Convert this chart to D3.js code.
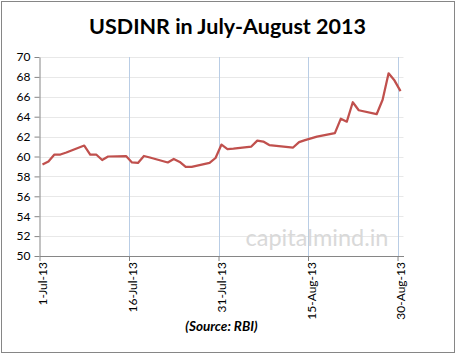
<!DOCTYPE html>
<html>
<head>
<meta charset="utf-8">
<script src="https://cdn.jsdelivr.net/npm/d3@7"></script>
<style>
  html, body { margin: 0; padding: 0; background: #fff; }
  svg { display: block; }
</style>
</head>
<body>
<svg id="chart" width="457" height="355"></svg>
<script>
const title = "USDINR in July-August 2013";
const source = "(Source: RBI)";
const watermark = "capitalmind.in";
const dates = [
  "2013-07-01","2013-07-02","2013-07-03","2013-07-04","2013-07-05",
  "2013-07-08","2013-07-09","2013-07-10","2013-07-11","2013-07-12",
  "2013-07-15","2013-07-16","2013-07-17","2013-07-18","2013-07-19",
  "2013-07-22","2013-07-23","2013-07-24","2013-07-25","2013-07-26",
  "2013-07-29","2013-07-30","2013-07-31",
  "2013-08-01","2013-08-02","2013-08-05","2013-08-06","2013-08-07","2013-08-08",
  "2013-08-12","2013-08-13","2013-08-14","2013-08-16",
  "2013-08-19","2013-08-20","2013-08-21","2013-08-22","2013-08-23",
  "2013-08-26","2013-08-27","2013-08-28","2013-08-29","2013-08-30"
];
const usdinr = [
  59.20, 59.50, 60.20, 60.20, 60.40,
  61.10, 60.20, 60.20, 59.65, 60.00,
  60.05, 59.40, 59.35, 60.05, 59.90,
  59.40, 59.75, 59.45, 58.95, 58.95,
  59.35, 59.85, 61.20,
  60.75, 60.80, 61.00, 61.60, 61.50, 61.15,
  60.90, 61.45, 61.65, 62.00,
  62.35, 63.80, 63.50, 65.45, 64.65,
  64.25, 65.70, 68.36, 67.63, 66.57
];
const xTickDates = ["2013-07-01","2013-07-16","2013-07-31","2013-08-15","2013-08-30"];
const xDomain = ["2013-07-01","2013-08-31"];
const yDomain = [50, 70];
const yTicks = [50,52,54,56,58,60,62,64,66,68,70];

const parse = d3.utcParse("%Y-%m-%d");
const fmt = d3.utcFormat("%-d-%b-%y");
const svg = d3.select("#chart");
const L = 39.5, R = 403.5, T = 57, B = 256;

const x = d3.scaleUtc().domain(xDomain.map(parse)).range([L, R]);
const y = d3.scaleLinear().domain(yDomain).range([B, T]);
const font = "Lato, 'Open Sans', sans-serif";

// outer border
svg.append("rect").attr("x", 1.5).attr("y", 1.5).attr("width", 453).attr("height", 351)
  .attr("fill", "#fff").attr("stroke", "#868686").attr("stroke-width", 1);

// title
svg.append("text").attr("x", 227.5).attr("y", 34).attr("text-anchor", "middle")
  .attr("font-family", font).attr("font-weight", "bold").attr("font-size", 21.5)
  .attr("fill", "#000").text(title);

// horizontal gridlines
svg.append("g").selectAll("line").data(yTicks.filter(v => v !== 50)).join("line")
  .attr("x1", L).attr("x2", R).attr("y1", d => Math.round(y(d)) + 0.5).attr("y2", d => Math.round(y(d)) + 0.5)
  .attr("stroke", "#e8e8e8").attr("stroke-width", 1);

// vertical gridlines
svg.append("g").selectAll("line").data(xTickDates.slice(1).map(parse)).join("line")
  .attr("x1", d => Math.round(x(d)) + 0.5).attr("x2", d => Math.round(x(d)) + 0.5)
  .attr("y1", T).attr("y2", B)
  .attr("stroke", "#b9cde5").attr("stroke-width", 1);

// watermark
svg.append("text").attr("x", 317).attr("y", 246).attr("text-anchor", "middle")
  .attr("font-family", font).attr("font-size", 23.5).attr("fill", "#d9d9d9").text(watermark);

// y axis
const yAxis = svg.append("g").attr("transform", `translate(${L},0)`)
  .call(d3.axisLeft(y).tickValues(yTicks).tickSize(5).tickSizeOuter(0).tickPadding(4));
yAxis.selectAll("path, line").attr("stroke", "#868686");
yAxis.selectAll("text").attr("font-family", font).attr("font-size", 12).attr("fill", "#000");

// x axis
const xAxis = svg.append("g").attr("transform", `translate(0,${B})`)
  .call(d3.axisBottom(x).tickValues(xTickDates.map(parse)).tickFormat(fmt).tickSize(5).tickSizeOuter(0));
xAxis.selectAll("path, line").attr("stroke", "#868686");
xAxis.selectAll("text")
  .attr("font-family", font).attr("font-size", 12).attr("fill", "#000")
  .attr("text-anchor", "end")
  .attr("transform", "rotate(-90)")
  .attr("x", -6).attr("y", 0).attr("dy", "0.6em");

// line
const dayHalf = 12 * 3600 * 1000;
const pts = dates.map((d, i) => [parse(d).getTime() + dayHalf, usdinr[i]]);
svg.append("path").datum(pts)
  .attr("fill", "none").attr("stroke", "#c0504d").attr("stroke-width", 2.25)
  .attr("stroke-linejoin", "round")
  .attr("d", d3.line().x(p => x(new Date(p[0]))).y(p => y(p[1])));

// source
svg.append("text").attr("x", 221.5).attr("y", 331).attr("text-anchor", "middle")
  .attr("font-family", font).attr("font-weight", "bold").attr("font-style", "italic")
  .attr("font-size", 13.5).attr("fill", "#000").text(source);
</script>
</body>
</html>
